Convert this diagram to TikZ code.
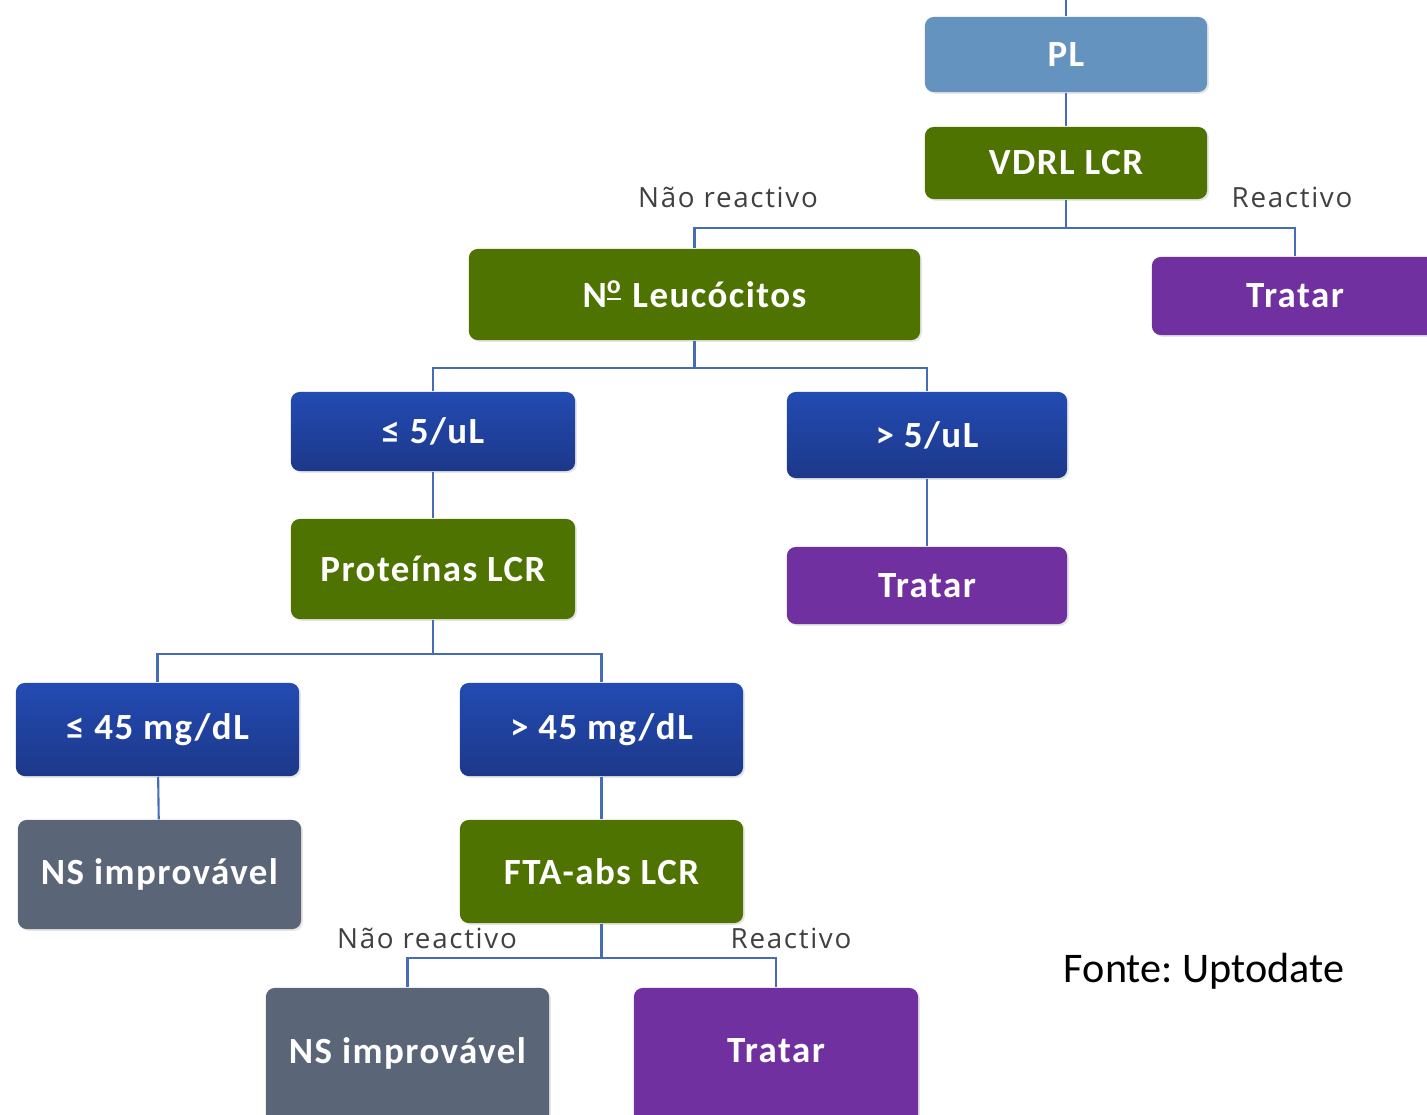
\documentclass[tikz,border=0pt]{standalone}
\usepackage{fontspec}
\setmainfont{Carlito}
\newfontfamily\boxfont[LetterSpace=4]{Carlito}
\newfontfamily\lblfont[LetterSpace=6]{Open Sans}
\usetikzlibrary{shadows}
\definecolor{plblue}{RGB}{101,147,191}
\definecolor{boxgreen}{RGB}{79,115,0}
\definecolor{topblue}{RGB}{35,75,178}
\definecolor{botblue}{RGB}{28,56,138}
\definecolor{boxpurple}{RGB}{112,48,160}
\definecolor{boxgray}{RGB}{91,101,120}
\definecolor{linkblue}{RGB}{70,108,184}
\definecolor{lblgray}{RGB}{64,64,64}
\newcommand{\numabbr}{N\textsuperscript{\underline{o}}}
\tikzset{
  flowbox/.style={rounded corners=2.5pt, text=white, inner sep=0pt,
    font=\boxfont\fontsize{10.5}{12}\selectfont\bfseries,
    drop shadow={opacity=0.2,shadow xshift=0.5pt,shadow yshift=-0.5pt}},
  plbox/.style={flowbox, fill=plblue},
  greenbox/.style={flowbox, fill=boxgreen},
  bluebox/.style={flowbox, top color=topblue, bottom color=botblue},
  purplebox/.style={flowbox, fill=boxpurple},
  graybox/.style={flowbox, fill=boxgray},
  link/.style={draw=linkblue, line width=0.6pt},
  lbl/.style={font=\lblfont\fontsize{7.9}{9}\selectfont, text=lblgray, inner sep=0pt},
}
\begin{document}
\begin{tikzpicture}[x=0.01cm, y=-0.01cm]
\useasboundingbox (0,0) rectangle (1427,1114);
% boxes
\node[plbox, minimum width=2.82cm, minimum height=0.75cm] (pl) at (1066,54.5) {PL};
\node[greenbox, minimum width=2.82cm, minimum height=0.72cm] (vdrl) at (1066,163) {VDRL LCR};
\node[greenbox, minimum width=4.51cm, minimum height=0.91cm] (leuco) at (694.5,294.5) {\numabbr\ Leucócitos};
\node[purplebox, minimum width=2.86cm, minimum height=0.78cm] (tratarA) at (1295,296) {Tratar};
\node[bluebox, minimum width=2.84cm, minimum height=0.79cm] (le5) at (433,431.5) {≤ 5/uL};
\node[bluebox, minimum width=2.80cm, minimum height=0.86cm] (gt5) at (927,435) {> 5/uL};
\node[greenbox, minimum width=2.84cm, minimum height=1.00cm] (prot) at (433,569) {Proteínas LCR};
\node[purplebox, minimum width=2.80cm, minimum height=0.77cm] (tratarB) at (927,585.5) {Tratar};
\node[bluebox, minimum width=2.83cm, minimum height=0.93cm] (le45) at (157.5,729.5) {≤ 45 mg/dL};
\node[bluebox, minimum width=2.83cm, minimum height=0.93cm] (gt45) at (601.5,729.5) {> 45 mg/dL};
\node[graybox, minimum width=2.83cm, minimum height=1.09cm] (nsA) at (159.5,874.5) {NS improvável};
\node[greenbox, minimum width=2.83cm, minimum height=1.03cm] (fta) at (601.5,871.5) {FTA-abs LCR};
\node[graybox, minimum width=2.83cm, minimum height=1.52cm] (nsB) at (407.5,1064) {\raisebox{2.7mm}{NS improvável}};
\node[purplebox, minimum width=2.84cm, minimum height=1.52cm] (tratarC) at (776,1064) {\raisebox{2.7mm}{Tratar}};
% connectors
\coordinate (top) at (1066,0);
\draw[link] (top) -- (pl.north);
\draw[link] (pl) -- (vdrl);
\draw[link] (vdrl.south) -- ++(0,28) -| (leuco.north);
\draw[link] (vdrl.south) -- ++(0,28) -| (tratarA.north);
\draw[link] (leuco.south) -- ++(0,27) -| (le5.north);
\draw[link] (leuco.south) -- ++(0,27) -| (gt5.north);
\draw[link] (le5) -- (prot);
\draw[link] (gt5) -- (tratarB);
\draw[link] (prot.south) -- ++(0,34) -| (le45.north);
\draw[link] (prot.south) -- ++(0,34) -| (gt45.north);
\draw[link] (le45) -- (nsA);
\draw[link] (gt45) -- (fta);
\draw[link] (fta.south) -- ++(0,34) -| (nsB.north);
\draw[link] (fta.south) -- ++(0,34) -| (tratarC.north);
% labels
\node[lbl] (nrA) at (728,197) {Não reactivo};
\node[lbl] (rA) at (1292,197) {Reactivo};
\node[lbl] (nrB) at (427,938) {Não reactivo};
\node[lbl] (rB) at (791,938) {Reactivo};
\node[font=\fontsize{12}{14}\selectfont] (fonte) at (1204,971) {Fonte:\ Uptodate};
\end{tikzpicture}
\end{document}
